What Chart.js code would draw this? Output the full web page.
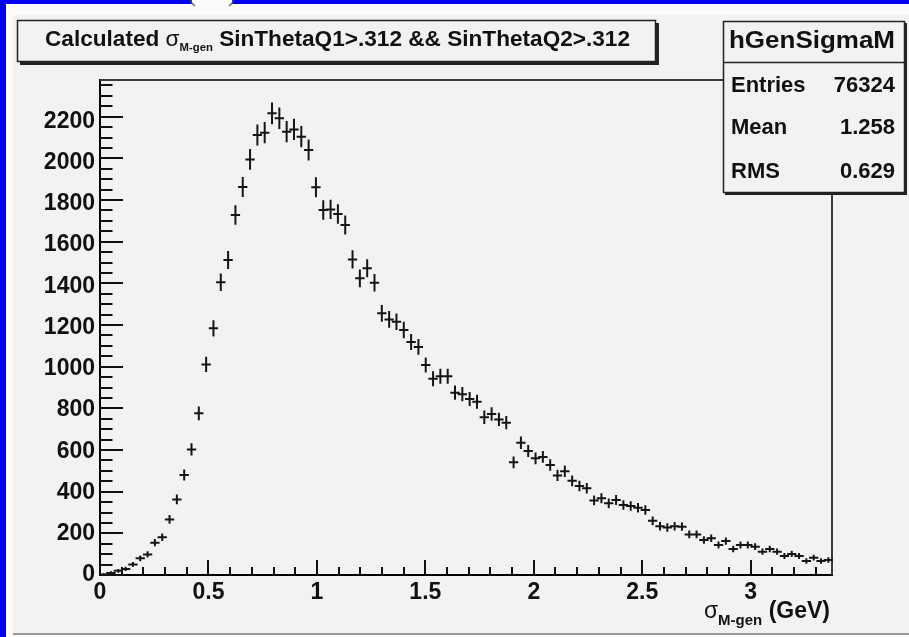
<!DOCTYPE html>
<html>
<head>
<meta charset="utf-8">
<script src="https://cdn.jsdelivr.net/npm/chart.js@4.4.1/dist/chart.umd.min.js"></script>
<style>
  html, body { margin: 0; padding: 0; background: #f2f2f2; overflow: hidden; }
  canvas { display: block; }
</style>
</head>
<body>
<canvas id="c" width="909" height="637"></canvas>
<script>
// ---- histogram hGenSigmaM: 100 bins between xLow and xHigh ----
const histName = 'hGenSigmaM';
const xLow = 0;
const xHigh = 3.375;
const counts = [
  2, 10, 20, 29, 51, 80, 99, 155, 181, 267,
  363, 480, 603, 776, 1011, 1184, 1405, 1512, 1728, 1862,
  1995, 2112, 2123, 2216, 2192, 2128, 2139, 2104, 2040, 1861,
  1752, 1755, 1733, 1680, 1515, 1424, 1472, 1403, 1256, 1227,
  1216, 1176, 1118, 1095, 1008, 942, 954, 954, 875, 868,
  845, 832, 757, 773, 747, 731, 541, 635, 595, 560,
  567, 528, 478, 498, 452, 427, 416, 358, 368, 344,
  360, 336, 331, 323, 312, 260, 234, 228, 234, 232,
  195, 195, 168, 176, 144, 163, 125, 144, 144, 136,
  112, 125, 112, 91, 101, 91, 67, 83, 67, 72
];
const yMax = 2376;

// ---- text ----
const titleParts = { before: 'Calculated ', sigma: '\u03C3', sub: 'M-gen', after: ' SinThetaQ1>.312 && SinThetaQ2>.312' };
const axisTitleParts = { sigma: '\u03C3', sub: 'M-gen', after: ' (GeV)' };
const statLabels = ['Entries', 'Mean', 'RMS'];
const statValues = ['76324', '1.258', '0.629'];
const xTickLabels = ['0', '0.5', '1', '1.5', '2', '2.5', '3'];
const yTickLabels = ['0', '200', '400', '600', '800', '1000', '1200', '1400', '1600', '1800', '2000', '2200'];
const xMajorStep = 0.5, xMinorStep = 0.1;
const yMajorStep = 200, yMinorStep = 50;

const FONT = '"Liberation Sans", Arial, Helvetica, sans-serif';
const INK = '#111111';
const PAD_BG = '#f2f2f2';

const binWidth = (xHigh - xLow) / counts.length;
const points = counts.map((n, i) => ({ x: xLow + (i + 0.5) * binWidth, y: n }));

// draw text squeezed or stretched horizontally to a given width
function fitText(ctx, text, x, y, font, width, align) {
  ctx.save();
  ctx.font = font;
  const w = ctx.measureText(text).width;
  const s = width / w;
  let left = x;
  if (align === 'right') left = x - width;
  else if (align === 'center') left = x - width / 2;
  ctx.translate(left, y);
  ctx.scale(s, 1);
  ctx.textAlign = 'left';
  ctx.textBaseline = 'middle';
  ctx.fillText(text, 0, 0);
  ctx.restore();
}

// a run of text pieces {text, font, dy}, stretched to span [x, x + width]
function drawRun(ctx, pieces, x, y, width) {
  let total = 0;
  pieces.forEach(p => { ctx.font = p.font; p.w = ctx.measureText(p.text).width; total += p.w; });
  const s = width / total;
  ctx.save();
  ctx.translate(x, y);
  ctx.scale(s, 1);
  ctx.textAlign = 'left';
  ctx.textBaseline = 'middle';
  let cx = 0;
  pieces.forEach(p => { ctx.font = p.font; ctx.fillText(p.text, cx, p.dy || 0); cx += p.w; });
  ctx.restore();
}

const rootStyle = {
  id: 'rootStyle',
  beforeDraw(chart) {
    const ctx = chart.ctx;
    const W = chart.width, H = chart.height;
    ctx.save();
    // window surround
    ctx.fillStyle = '#0000f5';
    ctx.fillRect(0, 0, W, H);
    ctx.fillStyle = '#fbfbfb';
    ctx.fillRect(6, 4, W - 6, H - 4);
    // small rounded tab cut into the top band
    ctx.fillRect(192, 0, 40, 4);
    ctx.strokeStyle = '#555';
    ctx.lineWidth = 1.2;
    ctx.beginPath();
    ctx.moveTo(190, 0); ctx.quadraticCurveTo(192, 4, 195, 6);
    ctx.moveTo(234, 0); ctx.quadraticCurveTo(232, 4, 229, 6);
    ctx.stroke();
    ctx.fillStyle = PAD_BG;
    ctx.fillRect(13, 15, W - 13, H - 15 - 3);
    ctx.fillStyle = '#9a9a9a';
    ctx.fillRect(13, H - 4, W - 13, 2);
    ctx.restore();
  },
  afterDatasetsDraw(chart) {
    const ctx = chart.ctx;
    const xs = chart.scales.x, ys = chart.scales.y;
    const a = chart.chartArea;
    ctx.save();

    // frame (top and right edges of the pad frame)
    ctx.strokeStyle = '#3a3a3a';
    ctx.lineWidth = 2;
    ctx.beginPath();
    ctx.moveTo(a.left, a.top); ctx.lineTo(a.right, a.top); ctx.lineTo(a.right, a.bottom);
    ctx.stroke();

    // inward ticks on the y axis
    ctx.strokeStyle = INK;
    ctx.lineWidth = 2;
    ctx.beginPath();
    for (let v = 0; v <= yMax + 1e-9; v += yMinorStep) {
      const py = Math.round(ys.getPixelForValue(v));
      const major = Math.abs(v / yMajorStep - Math.round(v / yMajorStep)) < 1e-6;
      ctx.moveTo(a.left, py);
      ctx.lineTo(a.left + (major ? 23 : 12.5), py);
    }
    // inward ticks on the x axis
    for (let k = 0; xLow + k * xMinorStep <= xHigh + 1e-9; k++) {
      const v = xLow + k * xMinorStep;
      const px = Math.round(xs.getPixelForValue(v));
      const major = k % Math.round(xMajorStep / xMinorStep) === 0;
      ctx.moveTo(px, a.bottom);
      ctx.lineTo(px, a.bottom - (major ? 15 : 8));
    }
    ctx.stroke();

    // error crosses: bin width horizontally, sqrt(N) vertically
    ctx.strokeStyle = '#151515';
    ctx.lineWidth = 2;
    ctx.lineCap = 'square';
    ctx.beginPath();
    points.forEach(p => {
      const px = xs.getPixelForValue(p.x);
      const x0 = xs.getPixelForValue(p.x - binWidth / 2);
      const x1 = xs.getPixelForValue(p.x + binWidth / 2);
      const py = ys.getPixelForValue(p.y);
      const e = Math.sqrt(p.y);
      const yTop = ys.getPixelForValue(p.y + e);
      const yBot = Math.min(a.bottom - 1, ys.getPixelForValue(Math.max(0, p.y - e)));
      ctx.moveTo(x0, py); ctx.lineTo(x1, py);
      ctx.moveTo(px, yTop); ctx.lineTo(px, yBot);
    });
    ctx.stroke();
    ctx.restore();
  },
  afterDraw(chart) {
    const ctx = chart.ctx;
    ctx.save();

    // title pave with shadow
    ctx.fillStyle = '#222';
    ctx.fillRect(20, 23, 639, 42);
    ctx.fillStyle = PAD_BG;
    ctx.fillRect(17, 20, 639, 42);
    ctx.strokeStyle = '#222';
    ctx.lineWidth = 1.5;
    ctx.strokeRect(17.5, 20.5, 638, 41);

    ctx.fillStyle = INK;
    drawRun(ctx, [
      { text: titleParts.before, font: 'bold 22px ' + FONT },
      { text: titleParts.sigma, font: '22px ' + FONT },
      { text: titleParts.sub, font: 'bold 11px ' + FONT, dy: 8 },
      { text: titleParts.after, font: 'bold 22px ' + FONT }
    ], 45, 40, 585);

    // statistics box
    ctx.fillStyle = '#222';
    ctx.fillRect(725, 23, 182, 172);
    ctx.fillStyle = PAD_BG;
    ctx.fillRect(723, 21, 182, 172);
    ctx.strokeStyle = '#222';
    ctx.lineWidth = 1.5;
    ctx.strokeRect(723.5, 21.5, 181, 171);
    ctx.beginPath();
    ctx.moveTo(723.5, 62.5); ctx.lineTo(904.5, 62.5);
    ctx.stroke();

    ctx.fillStyle = INK;
    fitText(ctx, histName, 812, 42, 'bold 23px ' + FONT, 166, 'center');
    const rowsY = [86, 128, 172];
    ctx.font = 'bold 22px ' + FONT;
    ctx.textBaseline = 'middle';
    statLabels.forEach((lab, i) => {
      ctx.textAlign = 'left';
      ctx.fillText(lab, 731, rowsY[i]);
      ctx.textAlign = 'right';
      ctx.fillText(statValues[i], 895, rowsY[i]);
    });

    // x axis title, right aligned to the axis end
    const a = chart.chartArea;
    ctx.textAlign = 'left';
    ctx.font = 'bold 23px ' + FONT;
    const wAfter = ctx.measureText(axisTitleParts.after).width;
    ctx.font = 'bold 15px ' + FONT;
    const wSub = ctx.measureText(axisTitleParts.sub).width;
    ctx.font = '23px ' + FONT;
    const wSig = ctx.measureText(axisTitleParts.sigma).width;
    let ax = a.right - 2 - wAfter - wSub - wSig;
    const ay = 612;
    ctx.fillText(axisTitleParts.sigma, ax, ay);
    ax += wSig;
    ctx.font = 'bold 15px ' + FONT;
    ctx.fillText(axisTitleParts.sub, ax, ay + 9);
    ax += wSub;
    ctx.font = 'bold 23px ' + FONT;
    ctx.fillText(axisTitleParts.after, ax, ay);
    ctx.restore();
  }
};

new Chart(document.getElementById('c'), {
  type: 'scatter',
  data: {
    datasets: [{
      label: histName,
      data: points,
      pointRadius: 0,
      pointHoverRadius: 0,
      showLine: false
    }]
  },
  options: {
    responsive: false,
    animation: false,
    events: [],
    layout: { padding: { left: 0, right: 77, top: 80, bottom: 0 } },
    plugins: { legend: { display: false }, tooltip: { enabled: false }, title: { display: false } },
    scales: {
      x: {
        type: 'linear',
        min: xLow,
        max: xHigh,
        afterFit(scale) { scale.height = 62; },
        grid: { display: true, drawOnChartArea: false, drawTicks: false },
        border: { display: true, color: '#000', width: 2 },
        ticks: {
          stepSize: xMajorStep,
          includeBounds: false,
          autoSkip: false,
          maxRotation: 0,
          padding: 4,
          color: INK,
          font: { family: FONT, size: 23, weight: 'bold' },
          callback: (v, i) => xTickLabels[i]
        }
      },
      y: {
        type: 'linear',
        min: 0,
        max: yMax,
        afterFit(scale) { scale.width = 100; },
        grid: { display: true, drawOnChartArea: false, drawTicks: false },
        border: { display: true, color: '#000', width: 2 },
        ticks: {
          stepSize: yMajorStep,
          includeBounds: false,
          autoSkip: false,
          padding: 5,
          color: INK,
          font: { family: FONT, size: 23, weight: 'bold' },
          callback: (v, i) => yTickLabels[i]
        }
      }
    }
  },
  plugins: [rootStyle]
});
</script>
</body>
</html>
